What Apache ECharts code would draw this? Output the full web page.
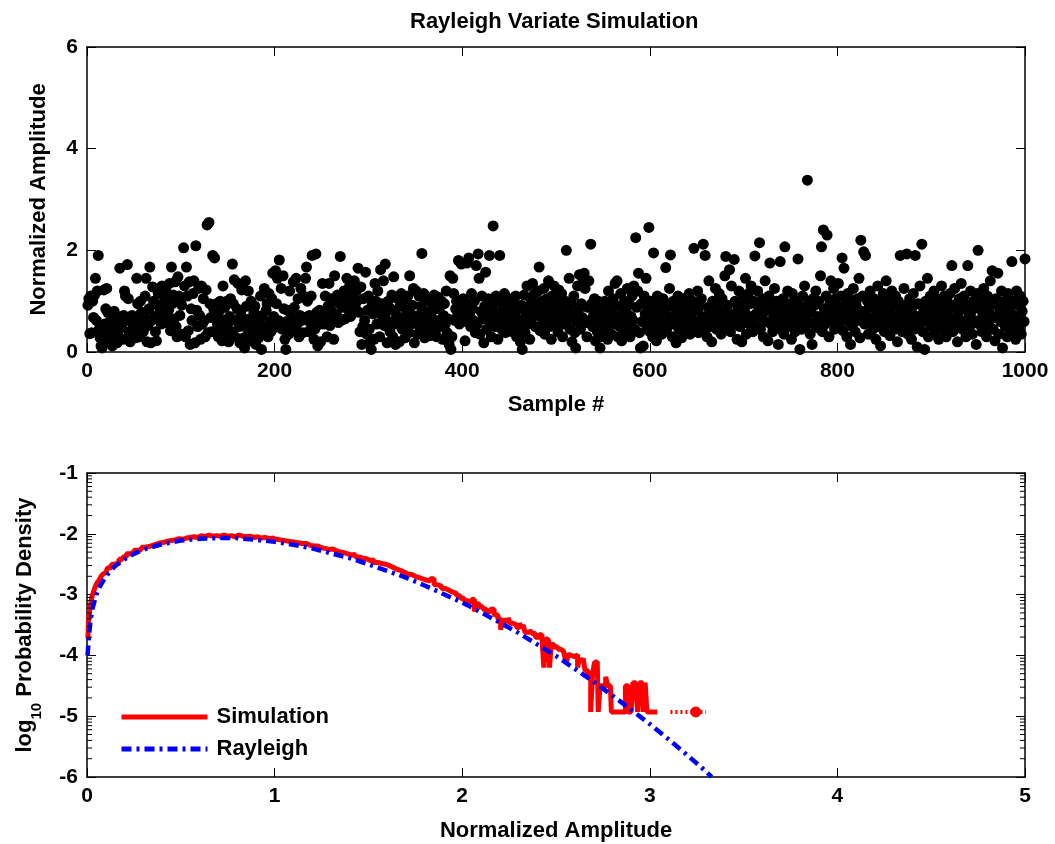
<!DOCTYPE html>
<html><head><meta charset="utf-8">
<script src="https://cdn.jsdelivr.net/npm/echarts@6/dist/echarts.min.js"></script>
<style>html,body{margin:0;padding:0;background:#fff}#c{width:1055px;height:844px}</style>
</head><body><div id="c"></div>
<script>
// ---- top panel: 1000 Rayleigh samples (approx.) ----
const sampleAmp = [
0.92,1.05,0.36,1.1,0.38,1.0,0.68,1.12,1.45,0.62,1.2,1.9,0.45,0.28,0.12,0.08,0.3,1.22,0.55,0.85,1.25,0.78,0.42,0.2,0.62,0.28,0.12,0.5,0.8,0.72,0.35,0.18,0.55,0.3,1.65,0.6,0.48,0.25,0.72,1.2,1.1,0.62,1.72,1.05,0.4,0.2,0.35,0.72,0.55,0.32,
0.62,0.28,1.45,0.95,0.45,0.3,1.0,0.78,0.55,0.4,0.72,1.1,1.45,0.2,0.52,0.85,1.67,0.18,0.62,1.28,1.0,0.7,0.4,0.22,0.72,1.15,0.88,0.62,0.55,1.3,0.95,0.75,1.05,1.2,0.58,0.68,0.82,1.35,0.42,1.67,0.95,1.12,0.65,1.38,0.5,0.3,1.48,1.1,0.72,1.05,
0.92,0.35,2.05,1.3,0.3,1.67,1.1,0.42,1.38,0.15,0.85,0.62,1.15,1.4,0.18,2.09,0.82,0.5,1.25,0.72,0.25,1.3,0.55,1.05,0.62,0.3,1.22,2.5,0.38,2.55,0.95,0.68,0.4,1.9,0.85,1.85,0.72,0.95,0.55,0.3,0.8,1.0,0.45,0.22,1.3,0.62,0.88,0.35,1.0,0.55,
0.2,0.7,1.05,0.4,1.73,0.95,1.42,0.3,0.62,0.85,1.35,0.5,0.18,0.75,1.22,0.6,0.28,0.08,1.4,0.9,0.45,1.2,0.65,0.22,1.0,0.55,0.35,0.78,0.9,0.15,0.62,0.45,0.28,0.58,1.1,0.05,0.72,0.38,1.25,0.5,0.82,0.95,0.3,1.15,0.6,0.4,1.05,1.55,0.7,0.48,
1.6,0.95,1.45,0.62,1.81,0.58,1.25,0.45,1.5,0.85,0.25,0.05,0.6,0.82,0.35,1.2,0.58,0.7,0.48,1.38,0.88,0.42,1.45,0.55,1.05,0.3,0.72,1.25,0.62,0.38,1.1,0.68,1.45,1.67,1.0,0.4,0.72,0.58,1.1,1.9,0.6,0.25,0.45,1.93,0.78,0.12,0.55,0.82,0.2,0.62,
1.35,0.55,0.72,1.1,0.68,0.3,0.9,1.35,0.52,0.82,1.05,0.62,0.25,1.5,1.0,0.75,1.12,0.58,0.95,1.88,0.62,1.05,0.88,1.2,0.65,0.95,1.45,1.1,0.82,1.3,0.7,1.15,0.95,1.05,1.4,0.88,1.2,1.0,1.65,0.78,0.4,1.28,0.15,0.5,1.05,0.62,1.57,0.35,0.82,1.1,
0.45,0.2,0.05,0.92,0.75,0.25,1.35,1.0,0.55,1.2,0.85,0.3,1.62,0.95,0.7,1.4,0.52,1.73,0.78,0.18,1.0,0.6,0.4,0.85,1.12,0.3,1.48,0.55,0.15,0.72,1.05,0.62,0.2,0.9,1.15,0.45,0.68,1.02,0.28,0.58,0.82,1.1,0.38,1.5,0.75,0.55,0.92,1.25,0.18,0.62,
1.2,0.35,0.72,1.1,0.5,0.9,1.94,0.62,1.15,0.28,0.45,1.0,0.78,0.55,1.05,0.32,0.7,0.95,0.6,1.12,0.4,0.85,0.3,1.08,0.62,0.88,0.5,1.0,0.25,0.72,0.95,0.55,1.2,0.38,0.65,0.15,1.5,0.05,0.3,1.45,1.15,0.62,0.85,1.0,0.72,1.8,0.55,0.9,1.73,0.7,
1.05,0.85,0.22,0.6,1.75,0.95,1.85,0.72,0.5,1.15,0.85,0.62,1.0,0.38,1.7,0.55,1.93,1.45,0.35,0.8,1.1,0.65,0.18,0.9,1.57,0.45,0.72,1.05,1.9,0.6,0.3,0.85,2.48,0.95,0.5,1.1,0.75,0.25,0.62,1.9,1.0,0.45,0.82,0.68,1.15,0.38,0.95,0.55,0.75,1.05,
0.62,0.85,0.4,0.95,0.72,0.55,1.1,0.3,0.65,0.85,0.45,0.2,0.92,0.05,0.6,1.12,0.38,0.75,1.3,0.55,0.9,0.25,1.05,0.68,1.35,0.8,1.15,0.5,0.95,0.72,1.2,1.67,0.42,0.88,1.0,0.58,1.25,0.35,0.78,1.05,0.62,1.4,0.5,0.92,0.25,1.1,0.72,1.3,0.55,0.85,
1.05,0.4,1.22,0.65,0.9,1.15,0.3,0.75,0.55,1.0,2.0,0.62,0.85,1.45,0.45,0.95,0.2,0.7,1.1,0.38,0.08,0.6,1.3,0.82,1.52,0.45,0.95,0.68,1.38,1.55,1.25,0.58,0.3,0.88,1.4,0.62,2.12,0.95,0.5,0.72,1.05,0.22,0.8,0.4,1.0,0.62,0.08,0.3,0.85,0.55,
0.72,1.0,0.45,0.88,0.25,1.2,0.62,0.95,0.35,0.78,1.05,0.55,1.35,0.68,1.4,0.3,0.9,0.5,1.15,0.22,0.75,0.6,1.0,0.4,0.85,1.25,0.55,0.95,0.3,0.7,1.1,0.62,1.3,0.45,2.25,0.88,1.2,1.55,0.38,0.08,0.95,0.6,0.12,1.1,0.75,1.45,0.5,0.85,2.45,0.4,
1.0,0.68,0.3,1.95,0.55,0.85,0.22,1.1,0.4,0.75,0.95,0.6,0.35,1.05,0.5,0.8,1.66,0.45,0.7,0.92,1.25,1.91,0.62,0.3,1.0,0.55,0.85,0.18,0.72,1.1,0.45,0.95,0.6,0.28,0.8,1.05,0.5,0.68,0.4,0.9,0.62,1.15,0.35,0.75,0.55,1.0,2.04,0.45,0.82,0.6,
1.2,0.38,0.9,0.55,1.05,0.7,2.12,0.42,1.9,0.65,0.3,0.88,1.4,0.5,0.75,0.2,1.0,0.62,0.85,1.25,0.45,0.95,0.55,1.15,0.72,0.35,1.05,0.6,0.8,1.5,1.88,0.48,0.92,0.68,1.62,0.4,1.3,0.55,0.75,1.82,1.0,0.62,0.25,0.88,1.2,0.5,0.7,0.2,1.05,0.58,
0.85,1.45,0.35,0.72,1.15,0.55,0.95,1.3,0.62,0.4,1.0,1.89,0.75,0.5,1.2,0.88,2.15,0.45,0.68,1.05,0.3,0.8,1.4,0.6,0.95,0.22,1.1,1.75,0.55,0.85,0.4,0.72,1.25,0.5,1.0,0.62,0.15,0.9,1.78,0.45,0.78,1.05,0.35,2.07,0.6,0.85,1.2,0.5,0.7,0.95,
0.25,1.15,0.62,0.8,0.4,1.0,0.55,1.83,0.72,0.05,0.9,0.45,1.1,0.68,1.3,0.5,0.85,3.38,0.6,1.0,0.35,0.78,0.15,1.05,0.55,0.92,1.2,0.48,0.7,1.0,0.62,1.5,2.07,0.4,2.4,0.85,0.55,1.1,2.3,0.72,0.3,0.95,1.4,0.62,0.8,1.25,0.45,1.05,0.68,0.9,
1.35,0.55,0.82,1.1,1.85,0.42,1.65,0.7,0.98,0.3,1.15,0.6,0.85,0.15,1.0,0.5,1.25,0.75,0.4,0.92,1.05,0.62,1.45,0.28,2.2,0.8,1.1,1.97,0.55,1.9,0.72,1.0,0.35,0.88,1.2,0.6,0.95,0.45,1.05,0.7,0.25,0.85,1.3,0.5,0.78,0.12,1.0,0.62,1.15,0.4,
0.9,1.4,0.55,0.75,1.05,0.32,0.85,1.2,0.6,0.95,0.45,1.1,0.7,0.2,1.0,0.58,1.9,0.85,0.4,0.65,1.25,0.5,0.92,1.93,0.35,0.78,1.05,0.62,0.25,0.88,1.15,0.45,1.9,0.7,0.1,0.95,0.55,1.3,0.72,2.12,0.4,0.85,0.05,1.0,0.6,1.45,0.3,0.78,1.1,0.5,
0.92,0.62,1.2,0.38,0.8,1.05,0.55,0.25,0.95,0.7,1.3,0.45,0.85,1.1,0.6,0.3,1.0,0.72,0.5,1.15,0.88,1.7,0.4,0.65,1.25,0.55,0.95,0.2,0.78,1.05,0.62,1.35,0.45,0.85,1.1,0.58,0.3,0.92,1.7,0.7,0.5,1.2,0.8,0.35,1.0,0.62,0.9,0.15,1.15,2.0,
0.55,0.85,1.05,0.4,0.72,1.25,0.6,0.92,0.3,1.1,0.5,0.78,1.4,0.65,1.6,0.45,0.95,0.22,1.05,0.7,1.55,0.35,0.85,0.6,1.2,0.08,0.75,1.0,0.5,0.9,0.3,1.15,0.62,0.82,0.4,1.78,0.55,1.0,0.72,0.25,1.2,0.65,0.92,0.45,1.1,0.35,0.8,1.0,0.6,1.83
];

// ---- bottom panel ----
const rayX = [0.003,0.01,0.02,0.03,0.05,0.07,0.1,0.15,0.2,0.25,0.3,0.4,0.5,0.6,0.7,0.8,0.9,1.0,1.1,1.2,1.3,1.4,1.5,1.6,1.7,1.8,1.9,2.0,2.1,2.2,2.3,2.4,2.5,2.6,2.7,2.8,2.9,3.0,3.1,3.2,3.3,3.33];
const rayY = [-4.0,-3.7,-3.4,-3.22,-3.0,-2.86,-2.7,-2.53,-2.42,-2.33,-2.26,-2.17,-2.11,-2.08,-2.07,-2.07,-2.1,-2.13,-2.18,-2.24,-2.32,-2.4,-2.5,-2.61,-2.72,-2.85,-2.99,-3.13,-3.29,-3.46,-3.63,-3.82,-4.01,-4.22,-4.43,-4.66,-4.89,-5.13,-5.38,-5.64,-5.91,-6.0];

const simX = [0.005,0.01,0.015,0.02,0.03,0.04,0.05,0.06,0.07,0.08,0.09,0.10,0.12,0.14,0.16,0.18,0.20,0.22,0.24,0.26,0.28,0.30,0.32,0.34,0.36,0.38,0.40,0.42,0.44,0.46,0.48,0.50,0.52,0.54,0.56,0.58,0.60,0.62,0.64,0.66,0.68,0.70,0.72,0.74,0.76,0.78,0.80,0.82,0.84,0.86,0.88,0.90,0.92,0.94,0.96,0.98,1.00,1.02,1.04,1.06,1.08,1.10,1.12,1.14,1.16,1.18,1.20,1.22,1.24,1.26,1.28,1.30,1.32,1.34,1.36,1.38,1.40,1.42,1.44,1.46,1.48,1.50,1.52,1.54,1.56,1.58,1.60,1.62,1.64,1.66,1.68,1.70,1.72,1.74,1.76,1.78,1.80,1.82,1.84,1.86,1.88,1.90,1.92,1.94,1.96,1.98,2.00,2.02,2.04,2.06,2.07,2.08,2.10,2.12,2.14,2.16,2.18,2.20,2.21,2.22,2.24,2.25,2.26,2.28,2.30,2.31,2.32,2.33,2.34,2.36,2.38,2.40,2.42,2.43,2.44,2.45,2.46,2.47,2.48,2.50,2.52,2.53,2.54,2.55,2.56,2.57,2.58,2.60,2.61,2.62,2.63,2.64,2.65,2.66,2.68,2.69,2.70,2.71,2.72,2.73,2.74,2.76,2.77,2.78,2.79,2.80,2.82,2.84,2.86,2.88,2.89,2.90,2.92,2.93,2.94,2.95,2.96,2.97,2.98,2.99,3.00,3.02,3.04];
const simY = [-3.72,-3.45,-3.28,-3.2,-3.05,-2.95,-2.86,-2.8,-2.76,-2.7,-2.66,-2.64,-2.56,-2.5,-2.47,-2.42,-2.38,-2.33,-2.31,-2.27,-2.26,-2.22,-2.21,-2.19,-2.17,-2.15,-2.14,-2.12,-2.11,-2.1,-2.08,-2.09,-2.07,-2.06,-2.05,-2.06,-2.03,-2.05,-2.02,-2.04,-2.03,-2.04,-2.02,-2.04,-2.03,-2.05,-2.02,-2.04,-2.05,-2.04,-2.06,-2.05,-2.07,-2.06,-2.08,-2.07,-2.09,-2.1,-2.11,-2.12,-2.13,-2.14,-2.15,-2.16,-2.16,-2.19,-2.2,-2.2,-2.23,-2.24,-2.26,-2.25,-2.28,-2.3,-2.31,-2.33,-2.35,-2.34,-2.38,-2.4,-2.41,-2.44,-2.43,-2.47,-2.49,-2.5,-2.52,-2.55,-2.58,-2.6,-2.63,-2.66,-2.67,-2.7,-2.72,-2.74,-2.76,-2.78,-2.74,-2.84,-2.86,-2.9,-2.93,-2.96,-2.98,-3.02,-3.06,-3.1,-3.13,-3.08,-3.28,-3.15,-3.2,-3.24,-3.28,-3.24,-3.33,-3.4,-3.58,-3.42,-3.45,-3.38,-3.47,-3.5,-3.54,-3.47,-3.55,-3.5,-3.62,-3.6,-3.64,-3.7,-3.66,-3.7,-4.2,-3.72,-3.75,-4.2,-3.82,-3.86,-3.9,-3.88,-3.93,-4.0,-4.13,-3.98,-4.0,-4.02,-3.99,-4.2,-4.05,-4.1,-4.05,-4.25,-4.3,-4.93,-4.3,-4.12,-4.1,-4.93,-4.5,-4.52,-4.35,-4.5,-4.5,-4.93,-4.93,-4.93,-4.93,-4.5,-4.93,-4.93,-4.45,-4.45,-4.93,-4.45,-4.45,-4.93,-4.45,-4.93,-4.93,-4.93,-4.93];
const simTailX = [3.11, 3.30];
const simTailY = [-4.93, -4.93];
const simDotX = [3.245];
const simDotY = [-4.93];

// log-style minor tick offsets inside each decade of the lower y axis
const minorOffsets = [0.301,0.477,0.602,0.699,0.778,0.845,0.903,0.954];
const decades = [-6,-5,-4,-3,-2];

const FONT = '"Liberation Sans", Arial, Helvetica, sans-serif';
const lbl = {color:'#000', fontSize:21, fontWeight:'bold', fontFamily:FONT};
const nameStyle = {color:'#000', fontSize:22, fontWeight:'bold', fontFamily:FONT};
const minorVals = [];
decades.forEach(d => minorOffsets.forEach(o => minorVals.push(+(d + o).toFixed(3))));

function frameAxis(extra) {
  return Object.assign({
    type:'value',
    axisLine:{show:true, onZero:false, lineStyle:{color:'#000', width:1.5}},
    axisTick:{show:true, inside:true, length:9, lineStyle:{color:'#000', width:1}},
    axisLabel:Object.assign({margin:9, formatter:v => String(v)}, lbl),
    splitLine:{show:false}
  }, extra);
}
const hide = {show:false};
const X2MIN = 0, X2MAX = 5, MINOR_LEN = 5;

const chart = echarts.init(document.getElementById('c'), null, {renderer:'canvas'});
chart.setOption({
  animation:false,
  backgroundColor:'#fff',
  title:{text:'Rayleigh Variate Simulation', left:405, top:6,
         textStyle:Object.assign({}, nameStyle)},
  grid:[
    {left:87, top:47, width:938, height:305},
    {left:87, top:473, width:938, height:304}
  ],
  legend:{
    data:['Simulation','Rayleigh'], orient:'vertical', left:114, top:701,
    itemWidth:86, itemHeight:14, itemGap:10,
    itemStyle:{opacity:0},
    lineStyle:{width:5},
    textStyle:Object.assign({padding:[0,0,0,4]}, nameStyle)
  },
  xAxis:[
    frameAxis({gridIndex:0, min:0, max:1000, interval:200, position:'bottom',
      name:'Sample #', nameLocation:'middle', nameGap:42, nameTextStyle:Object.assign({}, nameStyle)}),
    frameAxis({gridIndex:0, min:0, max:1000, interval:200, position:'top', axisLabel:hide}),
    frameAxis({gridIndex:1, min:X2MIN, max:X2MAX, interval:1, position:'bottom',
      name:'Normalized Amplitude', nameLocation:'middle', nameGap:43, nameTextStyle:Object.assign({}, nameStyle)}),
    frameAxis({gridIndex:1, min:X2MIN, max:X2MAX, interval:1, position:'top', axisLabel:hide})
  ],
  yAxis:[
    frameAxis({gridIndex:0, min:0, max:6, interval:2, position:'left',
      name:'Normalized Amplitude', nameLocation:'middle', nameGap:37, nameRotate:90, nameTextStyle:Object.assign({}, nameStyle)}),
    frameAxis({gridIndex:0, min:0, max:6, interval:2, position:'right', axisLabel:hide}),
    frameAxis({gridIndex:1, min:-6, max:-1, interval:1, position:'left',
      name:'{m|log}{s|10}{m| Probability Density}', nameLocation:'middle', nameGap:43, nameRotate:90,
      nameTextStyle:{rich:{
        m:Object.assign({}, nameStyle, {lineHeight:30, verticalAlign:'top'}),
        s:Object.assign({}, nameStyle, {fontSize:15, lineHeight:30, verticalAlign:'bottom'})
      }}}),
    frameAxis({gridIndex:1, min:-6, max:-1, interval:1, position:'right', axisLabel:hide})
  ],
  series:[
    {type:'scatter', xAxisIndex:0, yAxisIndex:0, symbol:'circle', symbolSize:11,
     itemStyle:{color:'#000', opacity:1}, silent:true,
     data:sampleAmp.map((v,i)=>[i+1, v])},
    {name:'Simulation', type:'line', xAxisIndex:2, yAxisIndex:2, symbol:'none', step:'middle',
     color:'#ff0000', lineStyle:{color:'#ff0000', width:5}, silent:true,
     data:simX.map((x,i)=>[x, simY[i]])},
    {name:'Rayleigh', type:'line', xAxisIndex:2, yAxisIndex:2, symbol:'none',
     color:'#0000ff', lineStyle:{color:'#0000ff', width:4.5, type:[10,5,3,5]}, silent:true,
     data:rayX.map((x,i)=>[x, rayY[i]])},
    {type:'line', xAxisIndex:2, yAxisIndex:2, symbol:'none',
     lineStyle:{color:'#ff0000', width:4, type:[2,3]}, silent:true,
     data:simTailX.map((x,i)=>[x, simTailY[i]])},
    {type:'scatter', xAxisIndex:2, yAxisIndex:2, symbol:'circle', symbolSize:11,
     itemStyle:{color:'#ff0000', opacity:1}, silent:true,
     data:simDotX.map((x,i)=>[x, simDotY[i]])},
    // log-style minor tick marks on both vertical borders of the lower panel
    {type:'custom', xAxisIndex:2, yAxisIndex:2, silent:true, clip:false, z:5,
     encode:{y:0},
     data:minorVals.map(v => [v]),
     renderItem:function (params, api) {
       const v = api.value(0);
       const pL = api.coord([X2MIN, v]);
       const pR = api.coord([X2MAX, v]);
       const st = {stroke:'#000', lineWidth:1};
       return {type:'group', children:[
         {type:'line', shape:{x1:pL[0], y1:pL[1], x2:pL[0] + MINOR_LEN, y2:pL[1]}, style:st},
         {type:'line', shape:{x1:pR[0], y1:pR[1], x2:pR[0] - MINOR_LEN, y2:pR[1]}, style:st}
       ]};
     }}
  ]
});
</script></body></html>
